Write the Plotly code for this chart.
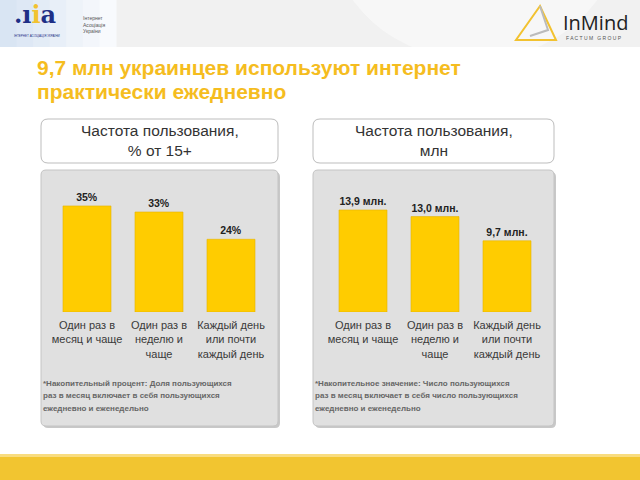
import plotly.graph_objects as go

W, H = 640, 480

categories = ["Один раз в<br>месяц и чаще", "Один раз в<br>неделю и<br>чаще", "Каждый день<br>или почти<br>каждый день"]
share_values = [35, 33, 24]
share_labels = ["35%", "33%", "24%"]
mln_values = [13.9, 13.0, 9.7]
mln_labels = ["13,9 млн.", "13,0 млн.", "9,7 млн."]

title_lines = ["9,7 млн украинцев используют интернет", "практически ежедневно"]
left_header = "Частота пользования,<br>% от 15+"
right_header = "Частота пользования,<br>млн"
left_note = ["*Накопительный процент: Доля пользующихся", "раз в месяц включает в себя пользующихся", "ежедневно и еженедельно"]
right_note = ["*Накопительное значение: Число пользующихся", "раз в месяц включает в себя число пользующихся", "ежедневно и еженедельно"]

def px(x):
    return x / W

def py(y):
    return 1 - y / H

BAR = "#FFCC00"
FONT = "Liberation Sans, Arial, sans-serif"

fig = go.Figure()
fig.add_trace(go.Bar(x=categories, y=share_values, text=share_labels, textposition="outside",
                     marker=dict(color=BAR, line=dict(color="#E6B400", width=0.6)),
                     textfont=dict(size=10.5, color="#222", family=FONT),
                     texttemplate="<b>%{text}</b>",
                     cliponaxis=False, xaxis="x", yaxis="y", showlegend=False, hoverinfo="skip"))
fig.add_trace(go.Bar(x=categories, y=mln_values, text=mln_labels, textposition="outside",
                     marker=dict(color=BAR, line=dict(color="#E6B400", width=0.6)),
                     textfont=dict(size=10.5, color="#222", family=FONT),
                     texttemplate="<b>%{text}</b>",
                     cliponaxis=False, xaxis="x2", yaxis="y2", showlegend=False, hoverinfo="skip"))

y_bottom, y_top = 312, 190
axis_common = dict(showgrid=False, zeroline=False, showline=False, fixedrange=True)
fig.update_layout(
    width=W, height=H, margin=dict(l=0, r=0, t=0, b=0),
    paper_bgcolor="white", plot_bgcolor="rgba(0,0,0,0)",
    bargap=0.333,
    font=dict(family=FONT),
    xaxis=dict(domain=[px(51), px(267)], anchor="y", tickfont=dict(size=11, color="#3A3A3A"),
               ticks="", ticklabelstandoff=5, **axis_common),
    yaxis=dict(domain=[py(y_bottom), py(y_top)], range=[0, (y_bottom - y_top) / 3.03],
               showticklabels=False, **axis_common),
    xaxis2=dict(domain=[px(327), px(543)], anchor="y2", tickfont=dict(size=11, color="#3A3A3A"),
                ticks="", ticklabelstandoff=5, **axis_common),
    yaxis2=dict(domain=[py(y_bottom), py(y_top)], range=[0, (y_bottom - y_top) / 7.34],
                showticklabels=False, **axis_common),
)

shapes = []
def rect(x0, y0, x1, y1, fill, line=None, lw=0, layer="below"):
    shapes.append(dict(type="rect", xref="paper", yref="paper", x0=px(x0), x1=px(x1), y0=py(y1), y1=py(y0),
                       fillcolor=fill, line=dict(color=line or fill, width=lw), layer=layer))

def rrect(x0, y0, x1, y1, r, fill, line, lw=1, layer="below"):
    X = lambda v: px(v)
    Y = lambda v: py(v)
    path = (f"M {X(x0+r)},{Y(y0)} L {X(x1-r)},{Y(y0)} Q {X(x1)},{Y(y0)} {X(x1)},{Y(y0+r)} "
            f"L {X(x1)},{Y(y1-r)} Q {X(x1)},{Y(y1)} {X(x1-r)},{Y(y1)} "
            f"L {X(x0+r)},{Y(y1)} Q {X(x0)},{Y(y1)} {X(x0)},{Y(y1-r)} "
            f"L {X(x0)},{Y(y0+r)} Q {X(x0)},{Y(y0)} {X(x0+r)},{Y(y0)} Z")
    shapes.append(dict(type="path", xref="paper", yref="paper", path=path,
                       fillcolor=fill, line=dict(color=line, width=lw), layer=layer))

# top band
rect(0, 0, 640, 47, "#F1F1F1")
shapes.append(dict(type="circle", xref="paper", yref="paper", x0=px(330), x1=px(620), y0=py(60), y1=py(-200),
                   fillcolor="#F7F7F7", line=dict(width=0), layer="below"))
rect(0, 47, 640, 60, "white")
# left logo gradient box
grad = ["#D9E5F3", "#DEE8F5", "#E3ECF6", "#E8EFF8", "#EEF3F9", "#F3F6FB", "#F8FAFD"]
step = 116 / len(grad)
for i, c in enumerate(grad):
    rect(i * step, 0, (i + 1) * step + 0.5, 47, c)
# InMind triangle logo
shapes.append(dict(type="path", xref="paper", yref="paper",
                   path=f"M {px(540)},{py(6)} L {px(516)},{py(40)} L {px(556)},{py(40)} Z",
                   fillcolor="rgba(0,0,0,0)", line=dict(color="#F2C230", width=2), layer="above"))
shapes.append(dict(type="path", xref="paper", yref="paper",
                   path=f"M {px(540)},{py(6)} L {px(548)},{py(30)} L {px(530)},{py(36)}",
                   fillcolor="rgba(0,0,0,0)", line=dict(color="#BBBBBB", width=2), layer="above"))

# header boxes
rrect(41, 119, 278, 163, 7, "white", "#BDBDBD", 1)
rrect(313, 119, 554, 163, 7, "white", "#BDBDBD", 1)
# gray panels (with shadow)
rrect(43, 172, 280, 428, 5, "#C8C8C8", "#C8C8C8", 0)
rrect(315, 172, 556, 428, 5, "#C8C8C8", "#C8C8C8", 0)
rrect(41, 170, 278, 426, 5, "#E0E0E0", "#C4C4C4", 1)
rrect(313, 170, 554, 426, 5, "#E0E0E0", "#C4C4C4", 1)
# bottom band
rect(0, 456, 640, 480, "#F2C530")
rect(0, 454, 640, 457, "#F8DC80")
fig.update_layout(shapes=shapes)

ann = []
def text(x, y, s, size, color, xanchor="left", yanchor="top", bold=False, align="left", family=FONT):
    ann.append(dict(xref="paper", yref="paper", x=px(x), y=py(y), text=f"<b>{s}</b>" if bold else s,
                    showarrow=False, xanchor=xanchor, yanchor=yanchor, align=align,
                    font=dict(size=size, color=color, family=family)))

text(35, 54, title_lines[0], 21, "#F5BD1F", bold=True)
text(35, 78, title_lines[1], 21, "#F5BD1F", bold=True)
text(159.5, 141, left_header, 15.5, "#333333", xanchor="center", yanchor="middle", align="center")
text(433.5, 141, right_header, 15.5, "#333333", xanchor="center", yanchor="middle", align="center")
for i, line in enumerate(left_note):
    text(41, 383 + i * 12.5, line, 8, "#666666", yanchor="middle", bold=True)
for i, line in enumerate(right_note):
    text(313, 383 + i * 12.5, line, 8, "#666666", yanchor="middle", bold=True)
# logos
ann.append(dict(xref="paper", yref="paper", x=px(12), y=py(31), xanchor="left", yanchor="bottom", showarrow=False,
                text="<b><span style='color:#1E2F86'>.ı</span><span style='color:#F2C230'>i</span><span style='color:#1E2F86'>a</span></b>",
                font=dict(size=24, family="DejaVu Serif, serif")))
text(12, 32, "ІНТЕРНЕТ АСОЦІАЦІЯ УКРАЇНИ", 3, "#1E2F86")
text(81, 13, "Інтернет<br>Асоціація<br>України", 5, "#555555")
text(561, 7, "InMind", 20, "#222222", family="Open Sans, sans-serif")
text(564, 33, "F A C T U M   G R O U P", 5, "#555555")
fig.update_layout(annotations=ann)

fig.write_html("out.html", config={"displayModeBar": False},
               post_script="document.body.style.margin='0px';document.body.style.overflow='hidden';")
